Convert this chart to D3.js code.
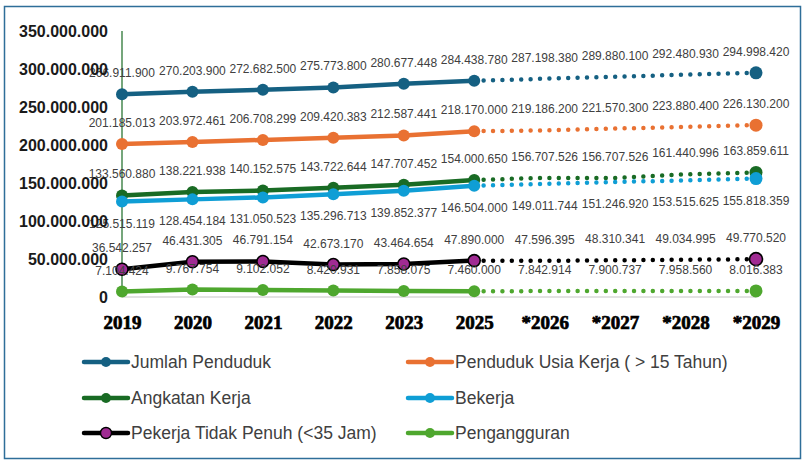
<!DOCTYPE html>
<html>
<head>
<meta charset="utf-8">
<script src="https://cdn.jsdelivr.net/npm/d3@7"></script>
<style>
  body { margin: 0; background: #fff; }
  svg { display: block; }
</style>
</head>
<body>
<svg width="803" height="462"></svg>
<script>
"use strict";

// data (2024 is not in the chart, * = projection)
const years = ["2019", "2020", "2021", "2022", "2023", "2025", "*2026", "*2027", "*2028", "*2029"];
const jumlahPenduduk = [266911900, 270203900, 272682500, 275773800, 280677448, 284438780, 287198380, 289880100, 292480930, 294998420];
const usiaKerja = [201185013, 203972461, 206708299, 209420383, 212587441, 218170000, 219186200, 221570300, 223880400, 226130200];
const angkatanKerja = [133560880, 138221938, 140152575, 143722644, 147707452, 154000650, 156707526, 156707526, 161440996, 163859611];
const bekerja = [125515119, 128454184, 131050523, 135296713, 139852377, 146504000, 149011744, 151246920, 153515625, 155818359];
const tidakPenuh = [36542257, 46431305, 46791154, 42673170, 43464654, 47890000, 47596395, 48310341, 49034995, 49770520];
const pengangguran = [7104424, 9767754, 9102052, 8420931, 7858075, 7460000, 7842914, 7900737, 7958560, 8016383];
const yTicks = [0, 50000000, 100000000, 150000000, 200000000, 250000000, 300000000, 350000000];
const lastActual = 5; // index of 2025, dotted after this

const series = [
    { name: "Jumlah Penduduk", values: jumlahPenduduk, line: "#156082", fill: "#156082", stroke: "none", below: false },
    { name: "Penduduk Usia Kerja ( > 15 Tahun)", values: usiaKerja, line: "#E97132", fill: "#E97132", stroke: "none", below: false },
    { name: "Angkatan Kerja", values: angkatanKerja, line: "#196B24", fill: "#196B24", stroke: "none", below: false },
    { name: "Bekerja", values: bekerja, line: "#0F9ED5", fill: "#0F9ED5", stroke: "none", below: true },
    { name: "Pekerja Tidak Penuh (<35 Jam)", values: tidakPenuh, line: "#000000", fill: "#A02B93", stroke: "#000000", below: false },
    { name: "Pengangguran", values: pengangguran, line: "#4EA72E", fill: "#4EA72E", stroke: "none", below: false }
];

const idLocale = d3.formatLocale({ decimal: ",", thousands: ".", grouping: [3], currency: ["", ""] });
const fmt = idLocale.format(",d");

let svg = d3.select("svg");

// outer frame
svg.append("rect")
    .attr("x", 4.5).attr("y", 6.5)
    .attr("width", 796).attr("height", 452)
    .attr("fill", "none")
    .attr("stroke", "#2E6E99")
    .attr("stroke-width", 1.5);

let x = d3.scalePoint().domain(years).range([122, 756]);
let y = d3.scaleLinear().domain([0, 350000000]).range([297, 31]);

let g = svg.append("g");

// baseline
g.append("line")
    .attr("x1", x(years[0])).attr("x2", x(years[years.length - 1]))
    .attr("y1", y(0)).attr("y2", y(0))
    .attr("stroke", "#D9D9D9")
    .attr("stroke-width", 1.5);

// vertical axis line (green in the original)
g.append("line")
    .attr("x1", x(years[0])).attr("x2", x(years[0]))
    .attr("y1", y(350000000)).attr("y2", y(0))
    .attr("stroke", "#196B24")
    .attr("stroke-width", 1.2);

let solid = d3.line()
    .x(d => x(d.year))
    .y(d => y(d.value));

series.forEach(s => {
    let pts = years.map((yr, i) => ({ year: yr, value: s.values[i], i: i }));
    let actual = pts.slice(0, lastActual + 1);
    let proj = pts.slice(lastActual);

    g.append("path")
        .datum(proj)
        .attr("d", solid)
        .attr("fill", "none")
        .attr("stroke", s.line)
        .attr("stroke-width", 4.5)
        .attr("stroke-linecap", "round")
        .attr("stroke-dasharray", "0 9.4");

    g.append("path")
        .datum(actual)
        .attr("d", solid)
        .attr("fill", "none")
        .attr("stroke", s.line)
        .attr("stroke-width", 4.5)
        .attr("stroke-linejoin", "round");

    let marked = pts.filter(d => d.i <= lastActual || d.i === years.length - 1);
    g.selectAll(null)
        .data(marked)
        .enter().append("circle")
        .attr("cx", d => x(d.year))
        .attr("cy", d => y(d.value))
        .attr("r", d => d.i === years.length - 1 ? 6.5 : 6)
        .attr("fill", s.fill)
        .attr("stroke", s.stroke)
        .attr("stroke-width", s.stroke === "none" ? 0 : 1.6);
});

// data labels
series.forEach(s => {
    g.selectAll(null)
        .data(s.values)
        .enter().append("text")
        .attr("x", (d, i) => x(years[i]))
        .attr("y", d => s.below ? y(d) + 26 : y(d) - 17)
        .attr("text-anchor", "middle")
        .attr("font-family", "Liberation Sans, Arial, sans-serif")
        .attr("font-size", 12)
        .attr("fill", "#404040")
        .text(d => fmt(d));
});

// y axis labels (drawn on top, like the original)
let yAxis = d3.axisLeft(y)
    .tickValues(yTicks)
    .tickSize(0)
    .tickPadding(0)
    .tickFormat(d => fmt(d));

let ya = svg.append("g")
    .attr("transform", "translate(108,0)")
    .call(yAxis);
ya.select(".domain").remove();
ya.selectAll("text")
    .attr("font-family", "Liberation Sans, Arial, sans-serif")
    .attr("font-size", 16)
    .attr("font-weight", "bold")
    .attr("fill", "#1a1a1a");

// x axis labels
let xAxis = d3.axisBottom(x).tickSize(0).tickPadding(0);
let xa = svg.append("g")
    .attr("transform", "translate(0,315)")
    .call(xAxis);
xa.select(".domain").remove();
xa.selectAll("text")
    .attr("font-family", "Liberation Serif, Times New Roman, serif")
    .attr("font-size", 19)
    .attr("font-weight", "bold")
    .attr("fill", "#000")
    .attr("stroke", "#000")
    .attr("stroke-width", 0.7);

// legend
let legend = svg.append("g")
    .attr("font-family", "Liberation Sans Narrow, Arial Narrow, sans-serif")
    .attr("font-size", 17.5)
    .attr("fill", "#404040");

let legendCol = [84, 408];
let legendRow = [362, 398, 433];

series.forEach((s, i) => {
    let lx = legendCol[i % 2];
    let ly = legendRow[Math.floor(i / 2)];
    let item = legend.append("g").attr("transform", "translate(" + lx + "," + ly + ")");
    item.append("line")
        .attr("x1", 0).attr("x2", 44)
        .attr("y1", 0).attr("y2", 0)
        .attr("stroke", s.line)
        .attr("stroke-width", 4.5)
        .attr("stroke-linecap", "round");
    item.append("circle")
        .attr("cx", 22).attr("cy", 0)
        .attr("r", s.stroke === "none" ? 5 : 5.5)
        .attr("fill", s.fill)
        .attr("stroke", s.stroke)
        .attr("stroke-width", s.stroke === "none" ? 0 : 1.4);
    item.append("text")
        .attr("x", 47)
        .attr("y", 6)
        .text(s.name);
});
</script>
</body>
</html>
